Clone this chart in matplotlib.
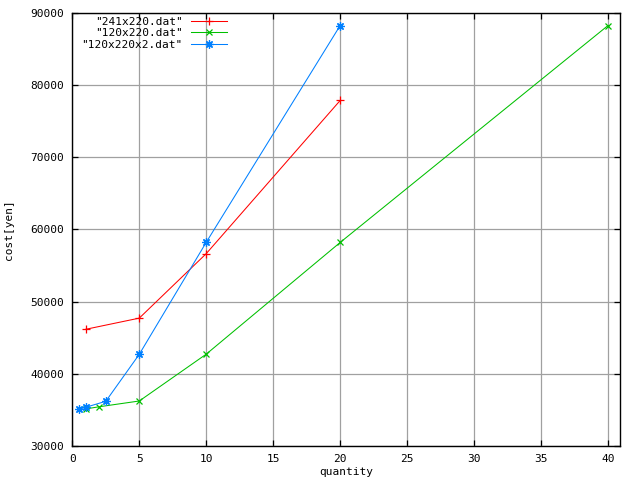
import matplotlib
matplotlib.use("Agg")
import matplotlib.pyplot as plt

plt.rcParams.update({
    "font.family": "DejaVu Sans Mono",
    "font.size": 8,
})

x_241 = [1, 5, 10, 20]
y_241 = [46150, 47700, 56650, 77900]
x_120 = [1, 2, 5, 10, 20, 40]
y_120 = [35100, 35400, 36200, 42700, 58200, 88300]
x_120x2 = [0.5, 1, 2.5, 5, 10, 20]
y_120x2 = [35050, 35330, 36160, 42680, 58220, 88300]

labels = ['"241x220.dat"', '"120x220.dat"', '"120x220x2.dat"']
colors = ["#ff0000", "#00c000", "#0080ff"]

fig = plt.figure(figsize=(6.4, 4.8), dpi=100)
ax = fig.add_axes([0.113, 0.0715, 0.8558, 0.9008])

ax.plot(x_241, y_241, color=colors[0], lw=0.75, marker="+", ms=6, mew=0.9,
        label=labels[0])
ax.plot(x_120, y_120, color=colors[1], lw=0.75, marker="x", ms=5, mew=0.9,
        label=labels[1])
ax.plot(x_120x2, y_120x2, color=colors[2], lw=0.75, marker=(8, 2, 0), ms=6,
        mew=0.9, label=labels[2])

ax.set_xlim(0, 40.9)
ax.set_ylim(30000, 90000)
ax.set_xticks(range(0, 41, 5))
ax.set_yticks(range(30000, 90001, 10000))
ax.grid(True, color="#a0a0a0", lw=0.9)
ax.set_axisbelow(True)
ax.tick_params(direction="in", top=True, right=True, length=4, width=0.9,
               pad=6)
for s in ax.spines.values():
    s.set_linewidth(1.0)

ax.set_xlabel("quantity", labelpad=2)
ax.set_ylabel("cost[yen]", labelpad=12)

ax.legend(loc="upper left", bbox_to_anchor=(0.01, 1.0), frameon=False,
          markerfirst=False, handlelength=3.2, handletextpad=0.8,
          labelspacing=0.15, borderaxespad=0.15, borderpad=0.15)

fig.savefig("out.png", dpi=100)
